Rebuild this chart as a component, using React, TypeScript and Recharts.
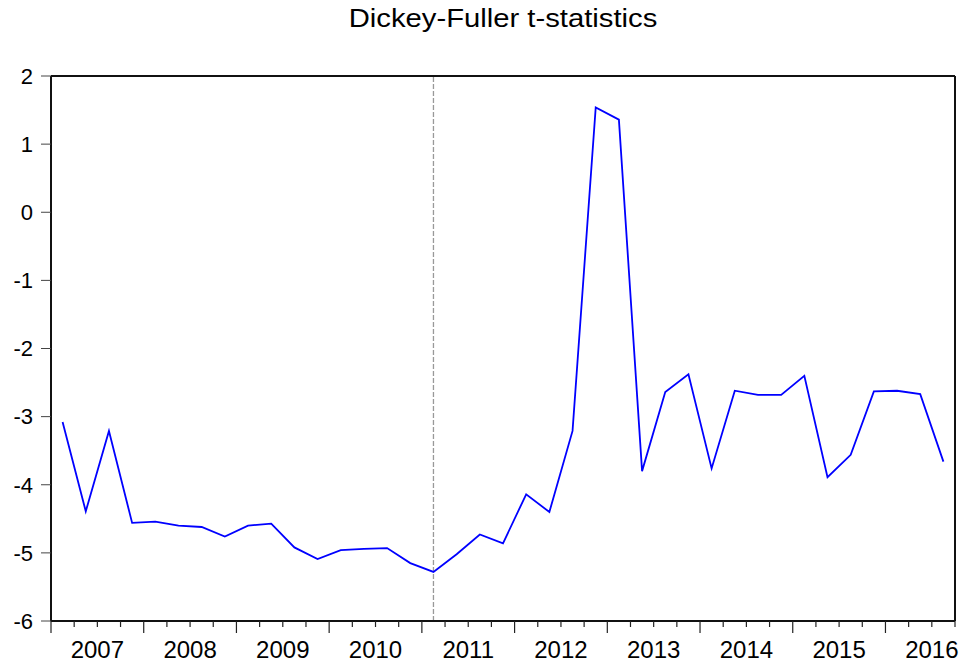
import React from 'react';
import { LineChart, Line, XAxis, YAxis, ReferenceLine } from 'recharts';

// Quarterly Dickey-Fuller t-statistics, 2007Q1 .. 2016Q3
const tStats: number[] = [
  -3.08, -4.39, -3.21, -4.56,
  -4.54, -4.60, -4.62, -4.76,
  -4.60, -4.57, -4.92, -5.09,
  -4.96, -4.94, -4.93, -5.15,
  -5.28, -5.02, -4.73, -4.86,
  -4.14, -4.40, -3.21, 1.54,
  1.36, -3.80, -2.64, -2.38,
  -3.76, -2.62, -2.68, -2.68,
  -2.40, -3.89, -3.56, -2.63,
  -2.62, -2.67, -3.66,
];
const years: string[] = ['2007', '2008', '2009', '2010', '2011', '2012', '2013', '2014', '2015', '2016'];
const yTicks: number[] = [-6, -5, -4, -3, -2, -1, 0, 1, 2];
const breakQuarter = 16; // 2011Q1

const data = tStats.map((v, i) => ({ x: i + 0.5, t: v }));
const quarterTicks = Array.from({ length: tStats.length + 1 }, (_, i) => i);

const FONT = '"Liberation Sans", Arial, sans-serif';

const XTick = (props: any) => {
  const { x, y, payload } = props;
  const v: number = payload.value;
  const major = v % 4 === 0;
  const labelIdx = (v - 2) / 4;
  const showLabel = v % 4 === 2 && labelIdx >= 0 && labelIdx < years.length;
  return (
    <g>
      <line x1={x} x2={x} y1={y} y2={y + (major ? 12 : 6)} stroke="#222" strokeWidth={1.2} />
      {showLabel && (
        <text x={x} y={y + 37} textAnchor="middle" fontSize={24} fontFamily={FONT} fill="#000">
          {years[labelIdx]}
        </text>
      )}
    </g>
  );
};

export default function App() {
  return (
    <div style={{ position: 'absolute', left: 0, top: 0, width: 967, height: 668, background: '#fff' }}>
      <svg width={967} height={40} style={{ position: 'absolute', left: 0, top: 0 }}>
        <text
          x={0}
          y={27}
          textAnchor="middle"
          fontSize={25}
          fontFamily={FONT}
          fill="#000"
          transform="translate(503,0) scale(1.17,1)"
        >
          Dickey-Fuller t-statistics
        </text>
      </svg>
      <LineChart
        width={967}
        height={668}
        data={data}
        margin={{ top: 76, right: 12, bottom: 0, left: 0 }}
        style={{ position: 'absolute', left: 0, top: 0 }}
      >
        <XAxis
          dataKey="x"
          type="number"
          domain={[0, tStats.length]}
          ticks={quarterTicks}
          interval={0}
          height={47}
          tickSize={0}
          tickMargin={0}
          tickLine={false}
          tick={<XTick />}
          axisLine={{ stroke: '#111', strokeWidth: 2 }}
          allowDataOverflow
        />
        <YAxis
          type="number"
          domain={[-6, 2]}
          ticks={yTicks}
          interval={0}
          width={51}
          tickSize={10}
          tickMargin={8}
          tickLine={{ stroke: '#444', strokeWidth: 1 }}
          axisLine={{ stroke: '#111', strokeWidth: 2 }}
          tick={{ fontSize: 22, fontFamily: FONT, fill: '#000' }}
          allowDataOverflow
        />
        <ReferenceLine y={2} stroke="#111" strokeWidth={2} />
        <ReferenceLine x={tStats.length} stroke="#111" strokeWidth={2} />
        <ReferenceLine x={breakQuarter + 0.5} stroke="#999" strokeWidth={1.3} strokeDasharray="5 2" />
        <Line
          type="linear"
          dataKey="t"
          stroke="#0000ff"
          strokeWidth={1.8}
          dot={false}
          activeDot={false}
          isAnimationActive={false}
        />
      </LineChart>
    </div>
  );
}
